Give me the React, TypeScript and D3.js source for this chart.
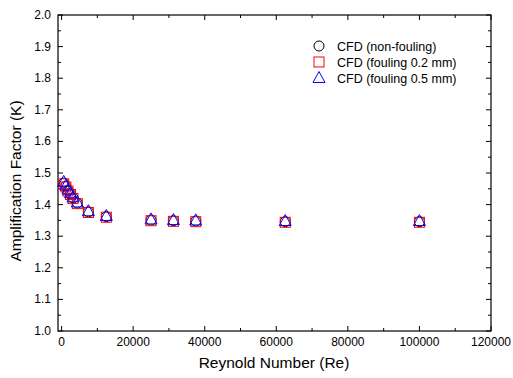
import React from "react";
import * as d3 from "d3";

const reynolds = [600, 1200, 1800, 2500, 3200, 4400, 7500, 12500, 25000, 31250, 37500, 62500, 100000];
const kNonFouling = [1.468, 1.458, 1.445, 1.434, 1.421, 1.405, 1.377, 1.362, 1.351, 1.349, 1.348, 1.346, 1.346];
const kFouling02 = [1.466, 1.456, 1.443, 1.432, 1.419, 1.403, 1.375, 1.360, 1.349, 1.347, 1.346, 1.344, 1.344];
const kFouling05 = [1.472, 1.460, 1.447, 1.436, 1.423, 1.407, 1.379, 1.364, 1.353, 1.351, 1.350, 1.348, 1.348];
const legendLabels = ["CFD (non-fouling)", "CFD (fouling 0.2 mm)", "CFD (fouling 0.5 mm)"];
const xTicks = [0, 20000, 40000, 60000, 80000, 100000, 120000];
const yTicks = [1.0, 1.1, 1.2, 1.3, 1.4, 1.5, 1.6, 1.7, 1.8, 1.9, 2.0];

const W = 513, H = 378;
const L = 58, R = 491, T = 15, B = 331;
const font = "'Liberation Sans', Arial, sans-serif";

export default function App() {
  const x = d3.scaleLinear().domain([-1000, 120000]).range([L, R]);
  const y = d3.scaleLinear().domain([1.0, 2.0]).range([B, T]);
  const xMinor = d3.range(0, 120001, 10000);
  const yMinor = d3.range(1.0, 2.0001, 0.05);

  const circle = (cx: number, cy: number, k: string) => (
    <circle key={k} cx={cx} cy={cy} r={5} fill="none" stroke="#000" strokeWidth={1} />
  );
  const square = (cx: number, cy: number, k: string) => (
    <rect key={k} x={cx - 5} y={cy - 5} width={10} height={10} fill="none" stroke="#ff0000" strokeWidth={1} />
  );
  const tri = (cx: number, cy: number, k: string) => (
    <path key={k} d={`M${cx},${cy - 6.5}L${cx + 6},${cy + 4.5}L${cx - 6},${cy + 4.5}Z`} fill="none" stroke="#0000ff" strokeWidth={1} />
  );

  return (
    <svg width={W} height={H} style={{ position: "absolute", left: 0, top: 0 }} fontFamily={font}>
      <rect x={0} y={0} width={W} height={H} fill="#fff" />
      {xMinor.map((v, i) => {
        const len = i % 2 === 0 ? 5 : 3;
        const px = x(v);
        return (
          <g key={"xt" + i} stroke="#000" strokeWidth={1}>
            <line x1={px} x2={px} y1={B} y2={B - len} />
            <line x1={px} x2={px} y1={T} y2={T + len} />
          </g>
        );
      })}
      {yMinor.map((v, i) => {
        const len = i % 2 === 0 ? 5 : 3;
        const py = y(v);
        return (
          <g key={"yt" + i} stroke="#000" strokeWidth={1}>
            <line x1={L} x2={L + len} y1={py} y2={py} />
            <line x1={R} x2={R - len} y1={py} y2={py} />
          </g>
        );
      })}
      <rect x={L} y={T} width={R - L} height={B - T} fill="none" stroke="#000" strokeWidth={1.2} />
      {xTicks.map((v) => (
        <text key={"xl" + v} x={x(v)} y={B + 15} textAnchor="middle" fontSize={12}>
          {v}
        </text>
      ))}
      {yTicks.map((v) => (
        <text key={"yl" + v} x={L - 7} y={y(v) + 4} textAnchor="end" fontSize={12}>
          {v.toFixed(1)}
        </text>
      ))}
      <text x={274} y={368} textAnchor="middle" fontSize={15.5}>
        Reynold Number (Re)
      </text>
      <text transform={`translate(21,181) rotate(-90)`} textAnchor="middle" fontSize={15.5}>
        Amplification Factor (K)
      </text>
      {reynolds.map((r, i) => circle(x(r), y(kNonFouling[i]), "c" + i))}
      {reynolds.map((r, i) => square(x(r), y(kFouling02[i]), "s" + i))}
      {reynolds.map((r, i) => tri(x(r), y(kFouling05[i]), "t" + i))}
      {circle(319, 46, "lc")}
      {square(319, 62, "ls")}
      {tri(319, 78, "lt")}
      {legendLabels.map((t, i) => (
        <text key={"lg" + i} x={337} y={50.5 + i * 16} fontSize={12.5}>
          {t}
        </text>
      ))}
    </svg>
  );
}
